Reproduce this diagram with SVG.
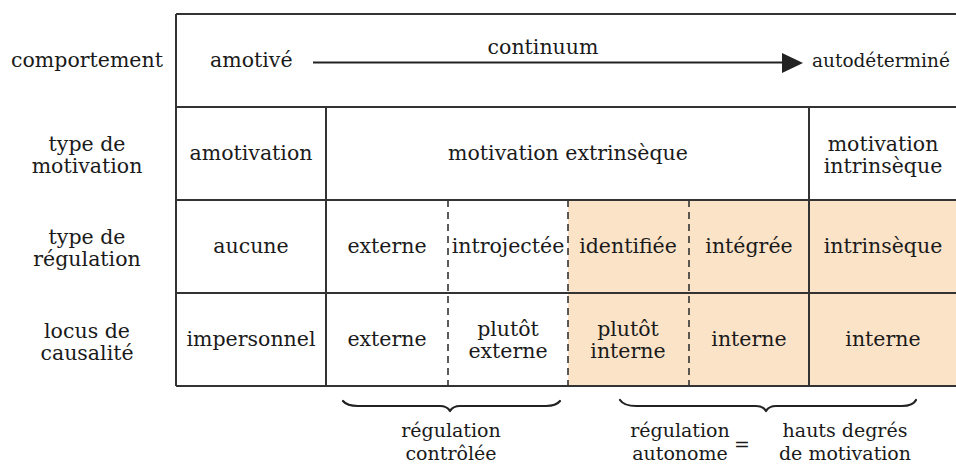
<svg xmlns="http://www.w3.org/2000/svg" width="956" height="468" viewBox="0 0 956 468">
<defs>
<style>
text{font-family:"DejaVu Serif","Liberation Serif",serif;font-size:20.5px;fill:#1a1a1a;}
.c{text-anchor:middle;}
.b{font-size:19px;}
.ln{stroke:#333;stroke-width:2;fill:none;}
.ds{stroke:#333;stroke-width:1.6;stroke-dasharray:7 5;fill:none;}
.br{stroke:#222;stroke-width:2.2;fill:none;stroke-linecap:round;stroke-linejoin:round;}
</style>
</defs>
<rect x="0" y="0" width="956" height="468" fill="#fff"/>
<g id="shading"><rect x="568" y="200" width="392" height="186" fill="#FBE3C8"/></g>
<g id="grid">
<path class="ln" d="M176,14 H960 M176,107 H960 M176,200 H960 M176,293 H960 M176,386 H960 M176,14 V386 M326,107 V386 M809,107 V386"/>
<path class="ds" d="M448,200 V386 M568,200 V386 M689,200 V386"/>
</g>
<g id="labels">
<g id="lab-comportement"><text class="c" x="87" y="67">comportement</text></g>
<g id="lab-motivation"><text class="c" x="87" y="151">type de</text><text class="c" x="87" y="173">motivation</text></g>
<g id="lab-regulation"><text class="c" x="87" y="244">type de</text><text class="c" x="87" y="266">régulation</text></g>
<g id="lab-locus"><text class="c" x="87" y="338">locus de</text><text class="c" x="87" y="360">causalité</text></g>
</g>
<g id="row1">
<g id="amotive"><text x="210" y="67">amotivé</text></g>
<g id="continuum"><text class="c" x="543" y="54">continuum</text></g>
<g id="autodetermine"><text x="812" y="67" style="font-size:18.5px">autodéterminé</text></g>
</g>
<g id="row2">
<g id="amotivation"><text class="c" x="251" y="160">amotivation</text></g>
<g id="extrinseque"><text class="c" x="568" y="160">motivation extrinsèque</text></g>
<g id="intrinseque"><text class="c" x="883" y="151">motivation</text><text class="c" x="883" y="173">intrinsèque</text></g>
</g>
<g id="row3">
<g id="aucune"><text class="c" x="251" y="253">aucune</text></g>
<g id="externe3"><text class="c" x="387" y="253">externe</text></g>
<g id="introjectee"><text class="c" x="508" y="253">introjectée</text></g>
<g id="identifiee"><text class="c" x="628" y="253">identifiée</text></g>
<g id="integree"><text class="c" x="749" y="253">intégrée</text></g>
<g id="intrinseque3"><text class="c" x="883" y="253">intrinsèque</text></g>
</g>
<g id="row4">
<g id="impersonnel"><text class="c" x="251" y="346">impersonnel</text></g>
<g id="externe4"><text class="c" x="387" y="346">externe</text></g>
<g id="plutot-externe"><text class="c" x="508" y="336">plutôt</text><text class="c" x="508" y="358">externe</text></g>
<g id="plutot-interne"><text class="c" x="628" y="336">plutôt</text><text class="c" x="628" y="358">interne</text></g>
<g id="interne4"><text class="c" x="749" y="346">interne</text></g>
<g id="interne5"><text class="c" x="883" y="346">interne</text></g>
</g>
<g id="bottom">
<g id="controlee"><text class="c b" x="451" y="437">régulation</text><text class="c b" x="451" y="460">contrôlée</text></g>
<g id="autonome"><text class="c b" x="680" y="437">régulation</text><text class="c b" x="680" y="460">autonome</text></g>
<g id="egal"><text class="c b" x="742" y="451">=</text></g>
<g id="hauts"><text class="c b" x="845" y="437">hauts degrés</text><text class="c b" x="845" y="460">de motivation</text></g>
</g>
<g id="connectors">
<path d="M313,62.5 H782" stroke="#222" stroke-width="2" fill="none"/>
<path d="M782,53 L803,63 L782,73 Z" fill="#222"/>
<path class="br" d="M343,401 Q347,406 358,406 L440,406 Q447,406 450,411 Q453,406 460,406 L546,406 Q556,406 560,401"/>
<path class="br" d="M620,400 Q624,406 636,406 L756,406 Q763,406 766,411 Q769,406 776,406 L902,406 Q913,406 916,400"/>
</g>
</svg>
